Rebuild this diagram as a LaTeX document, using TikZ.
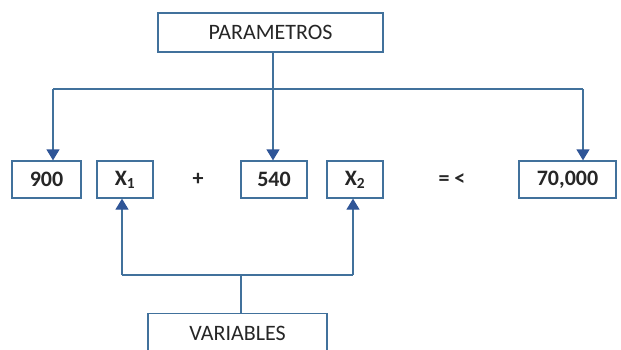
\documentclass[tikz,border=0pt]{standalone}
\usepackage{fontspec}
\setmainfont{Carlito}
\usetikzlibrary{arrows.meta}
\definecolor{boxblue}{HTML}{41719C}
\definecolor{headblue}{HTML}{2F5597}
\definecolor{txt}{HTML}{262626}
\begin{document}
\begin{tikzpicture}[x=1pt,y=-1pt,
  bx/.style={draw=boxblue,line width=1.3pt,fill=white,inner sep=0pt,text=txt,font=\fontsize{22}{26}\selectfont},
  num/.style={bx,font=\fontsize{22}{26}\selectfont\bfseries},
  conn/.style={draw=boxblue,line width=1.3pt},
  arr/.style={conn,-{Triangle[length=11pt,width=13pt,fill=headblue,color=headblue]}},
  lbl/.style={text=txt,font=\fontsize{22}{26}\selectfont\bfseries}]
\clip (0,0) rectangle (621,349);
\useasboundingbox (0,0) rectangle (621,349);
% top box
\node[bx,minimum width=225pt,minimum height=39pt] (par) at (270.5,32.5) {PARAMETROS};
% equation boxes
\node[num,minimum width=69pt,minimum height=37pt] (n900) at (46.5,179.5) {900};
\node[num,minimum width=56pt,minimum height=37pt] (x1) at (125,179.5) {X\textsubscript{1}};
\node[lbl] (plus) at (198,179.5) {+};
\node[num,minimum width=66pt,minimum height=37pt] (n540) at (274,179.5) {540};
\node[num,minimum width=56pt,minimum height=37pt] (x2) at (355,179.5) {X\textsubscript{2}};
\node[lbl] (le) at (452,179.5) {= <};
\node[num,minimum width=97pt,minimum height=37pt] (n70) at (567.5,179.5) {70,000};
% bottom box
\node[bx,minimum width=179pt,minimum height=60pt,anchor=north] (var) at (237.5,313) {};
\node[text=txt,font=\fontsize{22}{26}\selectfont] (vart) at (237.5,333) {VARIABLES};
% connectors top
\coordinate (hub) at (273,89);
\coordinate (hl) at (53,89);
\coordinate (hr) at (583,89);
\draw[conn] (par.south -| hub) -- (hub);
\draw[conn] (hl) -- (hr);
\draw[arr] (hl) -- (n900.north -| hl);
\draw[arr] (hub) -- (n540.north -| hub);
\draw[arr] (hr) -- (n70.north -| hr);
% connectors bottom
\coordinate (bl) at (122,275);
\coordinate (bm) at (241,275);
\coordinate (br) at (353,275);
\draw[conn] (var.north -| bm) -- (bm);
\draw[conn] (bl) -- (br);
\draw[arr] (bl) -- (x1.south -| bl);
\draw[arr] (br) -- (x2.south -| br);
\end{tikzpicture}
\end{document}
